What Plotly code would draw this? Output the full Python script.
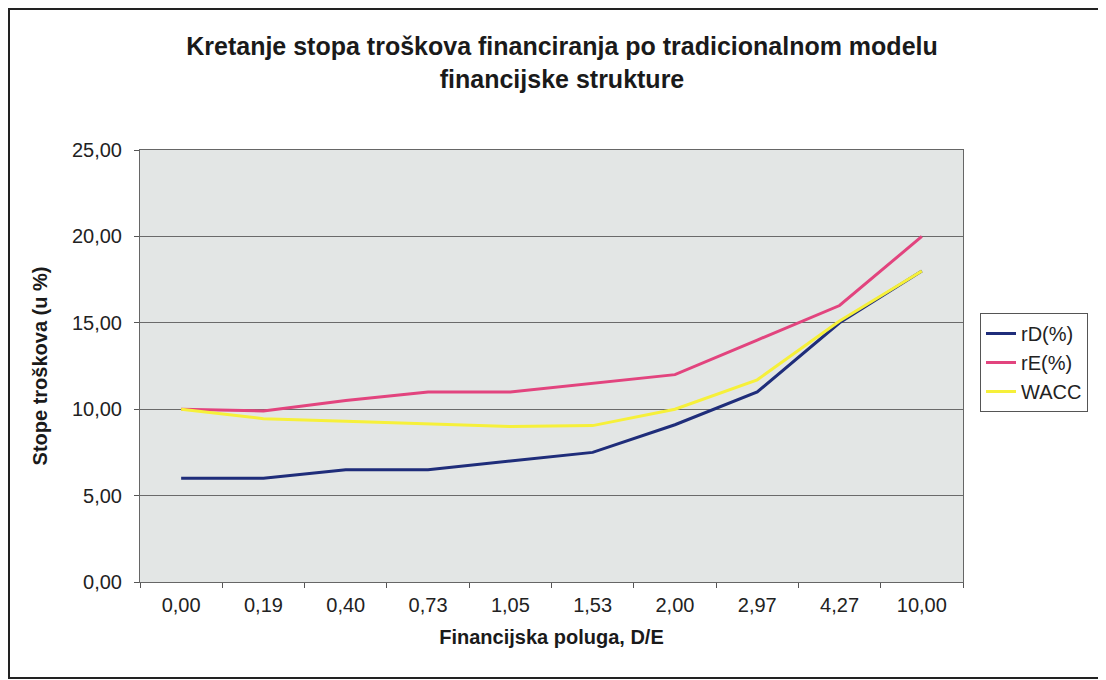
import plotly.graph_objects as go

categories = ["0,00", "0,19", "0,40", "0,73", "1,05", "1,53", "2,00", "2,97", "4,27", "10,00"]
rD = [6.0, 6.0, 6.5, 6.5, 7.0, 7.5, 9.1, 11.0, 15.0, 18.0]
rE = [10.0, 9.9, 10.5, 11.0, 11.0, 11.5, 12.0, 14.0, 16.0, 20.0]
wacc = [10.0, 9.45, 9.3, 9.15, 9.0, 9.05, 10.0, 11.7, 15.1, 18.0]
y_ticks = [0, 5, 10, 15, 20, 25]
y_tick_labels = ["0,00", "5,00", "10,00", "15,00", "20,00", "25,00"]

fig = go.Figure()
fig.add_trace(go.Scatter(x=categories, y=rD, mode="lines", name="rD(%)",
                         line=dict(color="#1f2d7a", width=3)))
fig.add_trace(go.Scatter(x=categories, y=rE, mode="lines", name="rE(%)",
                         line=dict(color="#e2447e", width=3)))
fig.add_trace(go.Scatter(x=categories, y=wacc, mode="lines", name="WACC",
                         line=dict(color="#f6f03a", width=3)))

# page body has an 8px margin; figure sized to fit inside the 1106x680 window
W, H = 1098, 672
L, R, T, B = 132, 143, 142, 98
pw, ph = W - L - R, H - T - B

def fx(px):
    return (px - L) / pw

def fy(py):
    return (H - B - py) / ph

fig.update_layout(
    width=W, height=H,
    margin=dict(l=L, r=R, t=T, b=B),
    paper_bgcolor="white",
    plot_bgcolor="#e3e6e5",
    font=dict(family="Liberation Sans, Arial, sans-serif", size=20, color="#222222"),
    title=dict(
        text="<b>Kretanje stopa troškova financiranja po tradicionalnom modelu<br>financijske strukture</b>",
        x=554 / W, xanchor="center", xref="container",
        y=1 - 47 / H, yanchor="middle",
        font=dict(size=25, color="#1a1a1a"),
    ),
    xaxis=dict(
        type="category",
        title=dict(text="<b>Financijska poluga, D/E</b>", font=dict(size=20, color="#1a1a1a"), standoff=14),
        showgrid=False,
        ticks="outside", ticklen=5, tickcolor="#555555", tickson="boundaries",
        ticklabelstandoff=5,
        showline=True, linecolor="#666666", linewidth=1, mirror=True,
        tickfont=dict(size=20),
        range=[-0.5, len(categories) - 0.5],
    ),
    yaxis=dict(
        title=dict(text="<b>Stope troškova (u %)</b>", font=dict(size=20, color="#1a1a1a"), standoff=18),
        range=[0, 25],
        tickvals=y_ticks, ticktext=y_tick_labels,
        showgrid=True, gridcolor="#6a6a6a", gridwidth=1,
        ticks="outside", ticklen=5, tickcolor="#555555",
        ticklabelstandoff=8,
        showline=True, linecolor="#666666", linewidth=1, mirror=True,
        zeroline=False,
        tickfont=dict(size=20),
    ),
    legend=dict(
        x=fx(972), y=fy(305), xanchor="left", yanchor="top",
        bordercolor="#555555", borderwidth=1, bgcolor="white",
        font=dict(size=20), tracegroupgap=0,
    ),
    showlegend=True,
)

fig.add_shape(type="rect", xref="paper", yref="paper",
              x0=fx(1), x1=fx(1096), y0=fy(670), y1=fy(1),
              line=dict(color="#222222", width=2), fillcolor="rgba(0,0,0,0)", layer="below")

fig.write_html("out.html")
